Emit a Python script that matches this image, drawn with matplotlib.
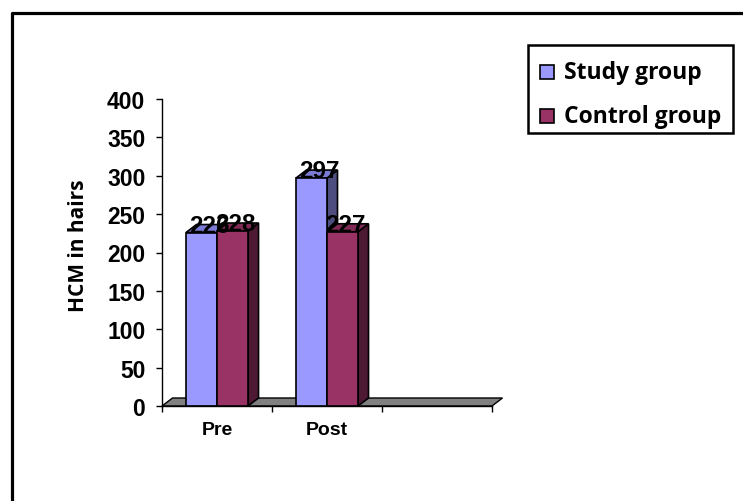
import matplotlib.pyplot as plt
from matplotlib.patches import Rectangle, Polygon
from matplotlib.lines import Line2D

categories = ["Pre", "Post", ""]
study = [226, 297]
control = [228, 227]
series_names = ["Study group", "Control group"]

# front / top / side shades for each series
study_cols = ("#9999FF", "#7B7BD6", "#4D4D80")
control_cols = ("#993366", "#7F2A55", "#4D1933")

fig = plt.figure(figsize=(7.43, 5.02), dpi=100)
ax = fig.add_axes([162 / 743, 95 / 502, 330 / 743, 307 / 502])
ax.set_xlim(0, 3)
ax.set_ylim(0, 400)

dx = 10.5 / 110      # depth offset, category units
dy = 8 / 0.7675      # depth offset, value units
bw = 0.282

# floor
floor = Polygon([(0, 0), (3, 0), (3 + dx, dy), (dx, dy)], closed=True,
                facecolor="#808080", edgecolor="black", lw=1, clip_on=False, zorder=1)
ax.add_patch(floor)


def bar3d(x0, h, cols, z):
    front, top, side = cols
    ax.add_patch(Polygon([(x0 + bw, 0), (x0 + bw + dx, dy), (x0 + bw + dx, h + dy), (x0 + bw, h)],
                         closed=True, facecolor=side, edgecolor="black", lw=1.2,
                         clip_on=False, zorder=z))
    ax.add_patch(Polygon([(x0, h), (x0 + bw, h), (x0 + bw + dx, h + dy), (x0 + dx, h + dy)],
                         closed=True, facecolor=top, edgecolor="black", lw=1.2,
                         clip_on=False, zorder=z))
    ax.add_patch(Rectangle((x0, 0), bw, h, facecolor=front, edgecolor="black", lw=1.2,
                           clip_on=False, zorder=z))


lab_font = dict(family="Liberation Sans", fontweight="bold", fontsize=17.5)
for i in range(len(study)):
    xs = i + 0.5 - bw
    xc = i + 0.5
    bar3d(xs, study[i], study_cols, 2 + 2 * i)
    bar3d(xc, control[i], control_cols, 3 + 2 * i)
    ax.text(xs + bw / 2 + dx / 2 + 0.02, study[i] + 1, str(study[i]), ha="center", va="baseline",
            zorder=10, **lab_font)
    ax.text(xc + bw / 2 + dx / 2 - 0.02, control[i] + 1, str(control[i]), ha="center", va="baseline",
            zorder=10, **lab_font)

# axes styling
for s in ["top", "right"]:
    ax.spines[s].set_visible(False)
ax.spines["left"].set_linewidth(1)
ax.spines["bottom"].set_linewidth(1)
ax.set_yticks(range(0, 401, 50))
ax.set_yticklabels([str(v) for v in range(0, 401, 50)], family="Liberation Sans",
                   fontweight="bold", fontsize=16.5)
ax.tick_params(axis="y", direction="out", length=4, width=1, pad=8)
ax.set_xticks([0, 1, 2, 3])
ax.set_xticklabels([])
ax.tick_params(axis="x", which="major", direction="out", length=4, width=1)
ax.set_xticks([0.5, 1.5, 2.5], minor=True)
ax.set_xticklabels(categories, minor=True, family="Liberation Sans",
                   fontweight="bold", fontsize=14)
ax.tick_params(axis="x", which="minor", length=0, pad=11)

fig.text(78 / 743, 1 - 246 / 502, "HCM in hairs", rotation=90, ha="center", va="center",
         family="Open Sans", fontweight="bold", fontsize=15)

# legend box
fig.add_artist(Rectangle((528 / 743, 1 - 134 / 502), 205 / 743, 88 / 502,
                         transform=fig.transFigure, facecolor="white", edgecolor="black", lw=1.8))
rows_y = [73, 117]
for name, col, yy in zip(series_names, [study_cols[0], control_cols[0]], rows_y):
    fig.add_artist(Rectangle((540 / 743, 1 - (yy + 7) / 502), 14 / 743, 14 / 502,
                             transform=fig.transFigure, facecolor=col, edgecolor="black", lw=1.2))
    fig.text(564 / 743, 1 - yy / 502, name, ha="left", va="center",
             family="Open Sans", fontweight="bold", fontsize=16.5)

# outer frame
fig.add_artist(Line2D([11.5 / 743, 11.5 / 743, 1], [0, 1 - 13.5 / 502, 1 - 13.5 / 502],
                      transform=fig.transFigure, color="black", lw=2.3))

fig.savefig("out.png", dpi=100)
